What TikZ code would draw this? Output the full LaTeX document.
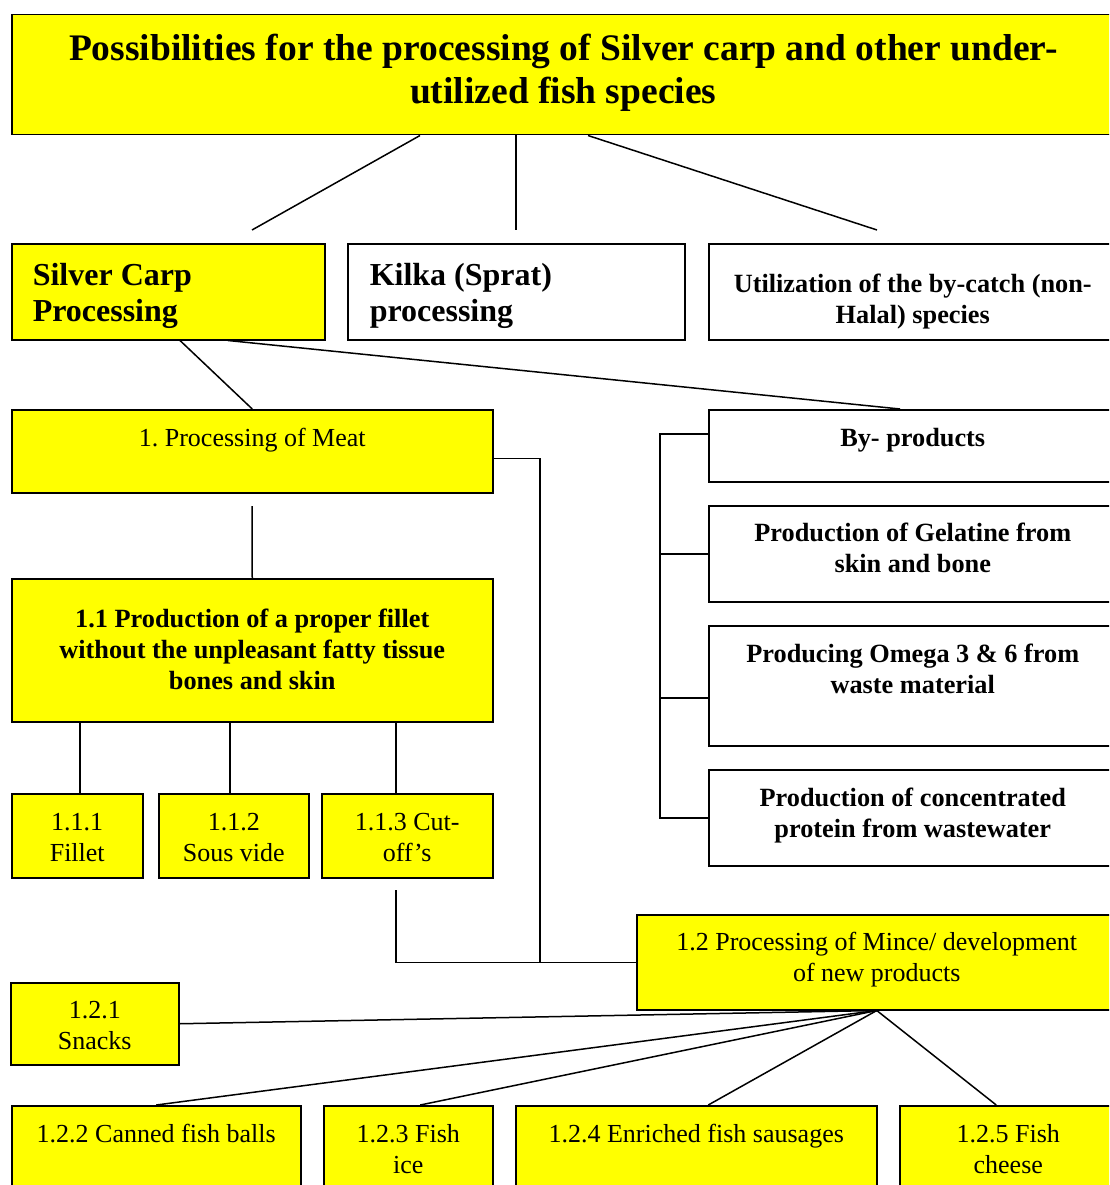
\documentclass[tikz,border=0pt]{standalone}
\usepackage{fontspec}
\setmainfont{Liberation Serif}
\usetikzlibrary{calc}
\definecolor{fishyellow}{RGB}{255,255,0}
\frenchspacing

\begin{document}
\begin{tikzpicture}[x=1pt,y=-1pt,line width=1.5pt]
\tikzstyle{every node}=[draw,rectangle,inner sep=0pt,align=flush center,anchor=north west,text height=37pt,font=\fontsize{26}{31}\selectfont]
\tikzstyle{ybox}=[fill=fishyellow]
\tikzstyle{wbox}=[fill=white]
\tikzstyle{bold}=[font=\fontsize{26.3}{31}\selectfont\bfseries]
\tikzstyle{big}=[font=\fontsize{32}{36}\selectfont\bfseries,align=flush left,text height=42pt,text depth=54pt]

\useasboundingbox (0,0) rectangle (1109,1185);
\clip (0,0) rectangle (1109,1185);

\node[ybox,font=\fontsize{37.5}{43}\selectfont\bfseries,text width=1103pt,text height=46pt,text depth=74pt] (title) at (11,14)
  {Possibilities for the processing of Silver carp and other under-\\utilized fish species};

\node[ybox,big,text width=271pt,inner xsep=21pt] (carp) at (11,243) {Silver Carp\\Processing};
\node[wbox,big,text width=293pt,inner xsep=22pt] (kilka) at (347,243) {Kilka (Sprat)\\processing};
\node[wbox,bold,text width=408pt,text height=49pt,text depth=47pt] (bycatch) at (708,243)
  {Utilization of the by-catch (non-\\Halal) species};

\node[ybox,text width=481pt,text depth=46pt] (meat) at (11,409) {1. Processing of Meat};
\node[ybox,bold,text width=481pt,text height=49pt,text depth=94pt] (fillet) at (11,578)
  {1.1 Production of a proper fillet\\without the unpleasant fatty tissue\\bones and skin};
\node[ybox,text width=131pt,text depth=47pt] (fil) at (11,793) {1.1.1\\Fillet};
\node[ybox,text width=150pt,text depth=47pt] (sousvide) at (158,793) {1.1.2\\Sous vide};
\node[ybox,text width=171pt,text depth=47pt] (cutoff) at (321,793) {1.1.3 Cut-\\off’s};

% by-products column
\node[wbox,bold,text width=408pt,text depth=35pt] (byprod) at (708,409) {By- products};
\node[wbox,bold,text width=408pt,text height=36pt,text depth=60pt] (gelatine) at (708,505)
  {Production of Gelatine from\\skin and bone};
\node[wbox,bold,text width=408pt,text depth=83pt] (omega) at (708,625)
  {Producing Omega 3 \& 6 from\\waste material};
\node[wbox,bold,text width=408pt,text depth=59pt] (protein) at (708,769)
  {Production of concentrated\\protein from wastewater};

% mince and new products
\node[ybox,text width=480pt,text height=36pt,text depth=59pt] (mince) at (636,914)
  {1.2 Processing of Mince/ development\\of new products};
\node[ybox,text width=168pt,text height=36pt,text depth=46pt] (snacks) at (10,982) {1.2.1\\Snacks};
\node[ybox,text width=289pt,text depth=50pt] (balls) at (11,1105) {1.2.2 Canned fish balls};
\node[ybox,text width=169pt,text depth=50pt] (ice) at (323,1105) {1.2.3 Fish\\ice};
\node[ybox,text width=361pt,text depth=50pt] (sausage) at (515,1105) {1.2.4 Enriched fish sausages};
\node[ybox,text width=217pt,text depth=50pt] (cheese) at (899,1105) {1.2.5 Fish\\cheese};

\coordinate (c1) at (252,230);
\coordinate (c2) at (516,230);
\coordinate (c3) at (877,230);
\coordinate (c4) at (252,506);
\coordinate (c5) at (396,890);

\draw (title.south west) ++(409,0) -- (c1);
\draw (title.south west) ++(505,0) -- (c2);
\draw (title.south west) ++(577,0) -- (c3);

\draw (carp.south west) ++(169,0) -- (meat.north);
\draw (carp.south west) ++(217,0) -- ($(byprod.north west)+(192,0)$);

\draw (c4) -- (fillet.north);
\draw (80,0 |- fillet.south) -- (80,0 |- fil.north);
\draw (230,0 |- fillet.south) -- (230,0 |- sousvide.north);
\draw (396,0 |- fillet.south) -- (396,0 |- cutoff.north);

\draw (c5) |- (mince.west);
\draw ([yshift=-7pt]meat.east) -| (540,0 |- mince.west);

\draw ([yshift=12pt]byprod.west) -| (660,0 |- protein.west) -- (protein.west);
\draw (gelatine.west) -- ++(-48,0);
\draw ([yshift=-12pt]omega.west) -- ++(-48,0);

\draw (mince.south) -- (snacks.east);
\draw (mince.south) -- (balls.north);
\draw (mince.south) -- ([xshift=12pt]ice.north);
\draw (mince.south) -- ([xshift=12pt]sausage.north);
\draw (mince.south) -- ([xshift=-12pt]cheese.north);

\end{tikzpicture}
\end{document}
